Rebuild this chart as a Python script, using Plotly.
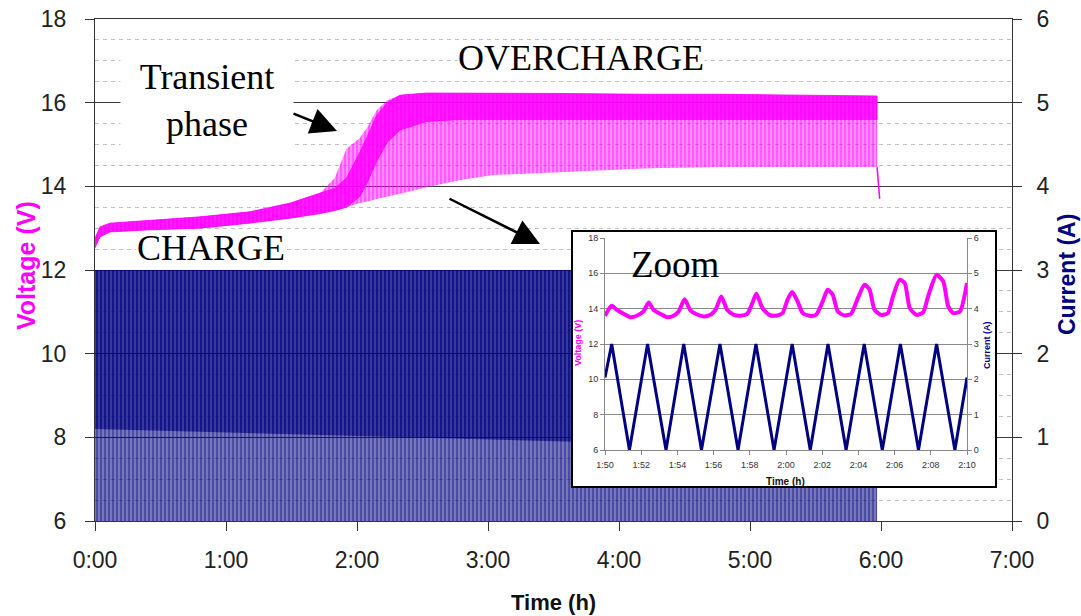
import plotly.graph_objects as go

# ---------------- data ----------------
# main chart: time in hours
main_t = [0.000, 0.038, 0.115, 0.42, 0.80, 1.18, 1.49, 1.72, 1.83, 1.92, 2.02, 2.08,
          2.15, 2.23, 2.33, 2.53, 2.79, 3.04, 3.55, 4.24, 4.77, 5.38, 5.97]
# voltage envelope of the oscillating signal (V)
volt_upper = [12.76, 13.03, 13.12, 13.19, 13.27, 13.39, 13.60, 13.84, 14.20, 14.90, 15.15, 15.42,
              15.82, 16.06, 16.18, 16.23, 16.23, 16.23, 16.22, 16.20, 16.20, 16.18, 16.16]
volt_lower = [12.53, 12.79, 12.91, 12.96, 13.00, 13.12, 13.24, 13.35, 13.42, 13.50, 13.60, 13.64,
              13.70, 13.76, 13.82, 13.98, 14.15, 14.27, 14.34, 14.43, 14.46, 14.46, 14.46]
# part of the voltage band where the trace is dense (V)
volt_dense_hi = [12.76, 13.03, 13.12, 13.19, 13.27, 13.39, 13.60, 13.84, 13.95, 14.20, 14.80, 15.20,
                 15.70, 16.00, 16.18, 16.23, 16.23, 16.23, 16.22, 16.20, 16.20, 16.18, 16.16]
volt_dense_lo = [12.53, 12.79, 12.91, 12.96, 13.00, 13.12, 13.24, 13.35, 13.42, 13.50, 13.75, 14.10,
                 14.60, 15.05, 15.35, 15.55, 15.60, 15.60, 15.60, 15.60, 15.60, 15.60, 15.60]
# end of test: voltage relaxation
tail_t = [5.97, 5.98, 5.99]
tail_v = [14.46, 14.10, 13.70]

# current envelope (A)
cur_t = [0.0, 5.97]
cur_upper = [3.0, 3.0]
cur_lower = [0.0, 0.0]
cur_dense_hi = [3.00, 3.00]
cur_dense_lo = [1.10, 0.85]

main_tickvals = [0, 1, 2, 3, 4, 5, 6, 7]
main_ticktext = ["0:00", "1:00", "2:00", "3:00", "4:00", "5:00", "6:00", "7:00"]

# inset (zoom): time in minutes
inset_v_time = [110.00, 110.37, 110.65, 111.02, 111.39, 111.76, 112.13, 112.41, 112.68, 113.05,
                113.42, 113.79, 114.07, 114.40, 114.72, 115.09, 115.46, 115.83, 116.11, 116.42,
                116.75, 117.12, 117.49, 117.86, 118.14, 118.36, 118.70, 119.07, 119.44, 119.81,
                120.08, 120.34, 120.64, 120.92, 121.29, 121.66, 122.03, 122.30, 122.58, 122.86,
                123.23, 123.60, 123.97, 124.34, 124.62, 124.89, 125.26, 125.63, 125.91, 126.28,
                126.56, 126.84, 127.21, 127.58, 127.85, 128.32, 128.69, 128.96, 129.24, 129.61,
                130.00]
inset_v = [13.60, 14.16, 13.94, 13.71, 13.52, 13.60, 13.84, 14.35, 13.94, 13.71,
           13.52, 13.60, 13.84, 14.54, 13.90, 13.67, 13.56, 13.65, 13.94, 14.69,
           13.94, 13.65, 13.60, 13.71, 14.31, 14.84, 14.03, 13.65, 13.60, 13.75,
           14.50, 14.94, 14.41, 13.75, 13.60, 13.65, 14.41, 15.07, 14.79, 13.84,
           13.62, 13.71, 14.60, 15.35, 15.07, 13.94, 13.65, 13.75, 14.69, 15.64,
           15.45, 14.03, 13.65, 13.79, 14.69, 15.92, 15.54, 14.13, 13.75, 13.84,
           15.45]
inset_i_time = [110.00, 110.37, 111.35, 112.35, 113.37, 114.35, 115.33, 116.35, 117.35, 118.34,
                119.34, 120.34, 121.34, 122.32, 123.32, 124.32, 125.32, 126.32, 127.32, 128.32,
                129.33, 130.00]
inset_i = [2.05, 3, 0, 3, 0, 3, 0, 3, 0, 3, 0, 3, 0, 3, 0, 3, 0, 3, 0, 3, 0, 2.05]
inset_tickvals = [110, 112, 114, 116, 118, 120, 122, 124, 126, 128, 130]
inset_ticktext = ["1:50", "1:52", "1:54", "1:56", "1:58", "2:00", "2:02", "2:04", "2:06", "2:08", "2:10"]

assert len(inset_v_time) == len(inset_v)
assert len(inset_i_time) == len(inset_i)

# ---------------- styling / layout constants ----------------
W, H = 1081, 616
PL, PR, PT, PB = 95, 1012, 19, 521          # main plot area in pixels
MAGENTA = "#FF00FF"
NAVY = "#000080"
SANS = "Liberation Sans, Arial, sans-serif"
SERIF = "Liberation Serif, Times New Roman, serif"


def px(x):
    return (x - PL) / (PR - PL)


def py(y):
    return (PB - y) / (PB - PT)


def band(x, hi, lo):
    return list(x) + list(x)[::-1], list(hi) + list(lo)[::-1]


fig = go.Figure()

# --- main: voltage (left axis) ---
bx, by = band(main_t, volt_upper, volt_lower)
fig.add_trace(go.Scatter(x=bx, y=by, fill="toself", mode="lines", line=dict(width=0),
                         fillcolor="rgba(255,255,255,0)",
                         fillpattern=dict(shape="|", fgcolor=MAGENTA, bgcolor="rgba(255,0,255,0.3)",
                                          size=4, solidity=0.7),
                         hoverinfo="skip", showlegend=False))
bx, by = band(main_t, volt_dense_hi, volt_dense_lo)
fig.add_trace(go.Scatter(x=bx, y=by, fill="toself", mode="lines", line=dict(width=0.8, color=MAGENTA),
                         fillcolor="rgba(255,255,255,0)",
                         fillpattern=dict(shape="|", fgcolor=MAGENTA, bgcolor="rgba(255,0,255,0.8)",
                                          size=4, solidity=0.6),
                         hoverinfo="skip", showlegend=False))
fig.add_trace(go.Scatter(x=tail_t, y=tail_v, mode="lines", line=dict(width=1.5, color=MAGENTA),
                         hoverinfo="skip", showlegend=False))

# --- main: current (right axis) ---
bx, by = band(cur_t, cur_upper, cur_lower)
fig.add_trace(go.Scatter(x=bx, y=by, fill="toself", mode="lines", line=dict(width=0),
                         fillcolor="rgba(255,255,255,0)",
                         fillpattern=dict(shape="|", fgcolor=NAVY, bgcolor="rgba(0,0,128,0.4)",
                                          size=4, solidity=0.72),
                         yaxis="y2", hoverinfo="skip", showlegend=False))
bx, by = band(cur_t, cur_dense_hi, cur_dense_lo)
fig.add_trace(go.Scatter(x=bx, y=by, fill="toself", mode="lines", line=dict(width=0),
                         fillcolor="rgba(255,255,255,0)",
                         fillpattern=dict(shape="|", fgcolor=NAVY, bgcolor="rgba(0,0,128,0.45)",
                                          size=4, solidity=0.65),
                         yaxis="y2", hoverinfo="skip", showlegend=False))

# --- inset frame (white box that hides the main data) ---
fig.add_trace(go.Scatter(x=[], y=[], xaxis="x2", yaxis="y3", hoverinfo="skip", showlegend=False))

# --- inset data ---
fig.add_trace(go.Scatter(x=inset_v_time, y=inset_v, mode="lines", xaxis="x3", yaxis="y4",
                         line=dict(color=MAGENTA, width=4, shape="spline", smoothing=0.6),
                         hoverinfo="skip", showlegend=False))
fig.add_trace(go.Scatter(x=inset_i_time, y=inset_i, mode="lines", xaxis="x3", yaxis="y5",
                         line=dict(color=NAVY, width=3),
                         hoverinfo="skip", showlegend=False))

# inset positions (pixels)
BOX = (573, 995, 232, 486)       # left, right, top, bottom
INN = (605, 967, 238, 450)

tickfont = dict(family=SANS, size=23, color="#222")
small = dict(family=SANS, size=9, color="#333")

fig.update_layout(
    width=W, height=H,
    margin=dict(l=PL, r=W - PR, t=PT, b=H - PB, pad=0, autoexpand=False),
    paper_bgcolor="white", plot_bgcolor="white",
    showlegend=False,
    xaxis=dict(range=[0, 7], tickvals=main_tickvals, ticktext=main_ticktext,
               showgrid=False, zeroline=False, showline=True, mirror=True, automargin=False,
               linecolor="#333", linewidth=1, ticks="outside", ticklen=9, tickcolor="#333",
               tickfont=tickfont, ticklabelstandoff=9),
    yaxis=dict(range=[6, 18], dtick=2, showgrid=True, gridcolor="#3c3c3c", gridwidth=1,
               zeroline=False, showline=True, linecolor="#333", ticks="outside", ticklen=9,
               tickcolor="#333", tickfont=tickfont, ticklabelstandoff=14, automargin=False,
               minor=dict(dtick=0.5, showgrid=True, gridcolor="#c0c0c0", griddash="4px,4px",
                          gridwidth=1, ticks="")),
    yaxis2=dict(range=[0, 6], dtick=1, overlaying="y", side="right", showgrid=False,
                zeroline=False, showline=True, linecolor="#333", ticks="outside", ticklen=9,
                tickcolor="#333", tickfont=tickfont, ticklabelstandoff=10, automargin=False),
    # inset frame
    xaxis2=dict(domain=[px(BOX[0]), px(BOX[1])], anchor="y3", range=[0, 1], showgrid=False,
                zeroline=False, showticklabels=False, ticks="", showline=True, mirror=True,
                linecolor="black", linewidth=1.5, fixedrange=True, automargin=False),
    yaxis3=dict(domain=[py(BOX[3]), py(BOX[2])], anchor="x2", range=[0, 1], showgrid=False,
                zeroline=False, showticklabels=False, ticks="", showline=True, mirror=True,
                linecolor="black", linewidth=1.5, fixedrange=True, automargin=False),
    # inset axes
    xaxis3=dict(domain=[px(INN[0]), px(INN[1])], anchor="y4", range=[110, 130],
                tickvals=inset_tickvals, ticktext=inset_ticktext, showgrid=False, zeroline=False,
                showline=True, linecolor="#888", ticks="outside", ticklen=4, tickcolor="#888",
                tickfont=small, ticklabelstandoff=2, automargin=False),
    yaxis4=dict(domain=[py(INN[3]), py(INN[2])], anchor="x3", range=[6, 18], dtick=2,
                showgrid=True, gridcolor="#8a8a8a", gridwidth=1, zeroline=False, showline=True,
                linecolor="#888", ticks="outside", ticklen=4, tickcolor="#888", tickfont=small,
                automargin=False),
    yaxis5=dict(range=[0, 6], dtick=1, overlaying="y4", side="right", anchor="x3",
                showgrid=False, zeroline=False, showline=True, linecolor="#888",
                ticks="outside", ticklen=4, tickcolor="#888", tickfont=small, automargin=False),
)

C = dict(xref="paper", yref="paper", xanchor="center", yanchor="middle", showarrow=False)
ann = []
# axis titles (main)
ann.append(dict(C, x=px(26), y=py(266), text="<b>Voltage (V)</b>", textangle=-90,
                font=dict(family=SANS, size=25, color=MAGENTA)))
ann.append(dict(C, x=px(1067), y=py(275), text="<b>Current (A)</b>", textangle=-90,
                font=dict(family=SANS, size=23, color=NAVY)))
ann.append(dict(C, x=px(553), y=py(602), text="<b>Time (h)</b>",
                font=dict(family=SANS, size=22, color="#111")))
# inset titles
ann.append(dict(C, x=px(578), y=py(343), text="<b>Voltage (V)</b>", textangle=-90,
                font=dict(family=SANS, size=9, color=MAGENTA)))
ann.append(dict(C, x=px(987), y=py(345), text="<b>Current (A)</b>", textangle=-90,
                font=dict(family=SANS, size=9, color=NAVY)))
ann.append(dict(C, x=px(785), y=py(481), text="<b>Time (h)</b>",
                font=dict(family=SANS, size=10, color="#111")))
# text labels
ann.append(dict(C, x=px(207), y=py(101), text="Transient<br>phase", bgcolor="white",
                width=170, height=95, font=dict(family=SERIF, size=36, color="black")))
ann.append(dict(C, x=px(581), y=py(58), text="OVERCHARGE", bgcolor="white", borderpad=0,
                height=34, font=dict(family=SERIF, size=36, color="black")))
ann.append(dict(C, x=px(211), y=py(248), text="CHARGE", bgcolor="white", borderpad=0,
                height=28, font=dict(family=SERIF, size=36, color="black")))
ann.append(dict(C, x=px(675), y=py(264), text="Zoom",
                font=dict(family=SERIF, size=37, color="black")))
# arrows
for (tx, ty, hx, hy) in [(292, 113, 337, 131), (448, 198, 540, 244)]:
    ann.append(dict(x=px(hx), y=py(hy), xref="paper", yref="paper", ax=tx - hx, ay=ty - hy,
                    axref="pixel", ayref="pixel", text="", showarrow=True, arrowhead=2,
                    arrowsize=2.1, arrowwidth=2.5, arrowcolor="black"))
fig.update_layout(annotations=ann)

fig.write_html("out.html", config={"displayModeBar": False},
               post_script="document.body.style.margin='0px';")
